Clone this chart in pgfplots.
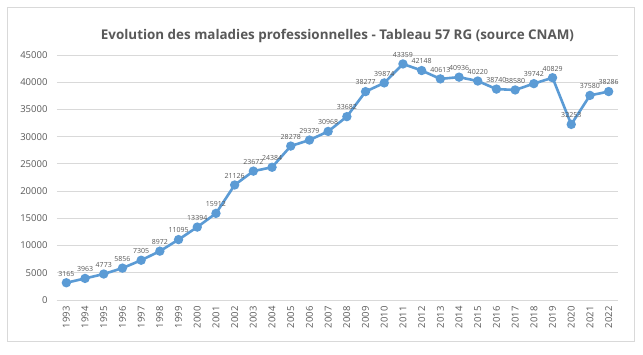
\documentclass[border=0pt]{standalone}
\usepackage{fontspec}
\setmainfont{Open Sans}
\usepackage{pgfplots}
\pgfplotsset{compat=1.18}
\definecolor{lineblue}{RGB}{91,155,213}
\definecolor{txtgray}{RGB}{89,89,89}
\definecolor{gridgray}{RGB}{217,217,217}
\begin{document}
\begin{tikzpicture}[x=1pt,y=1pt]
\fill[white] (-57,-54) rectangle (586,300);
\draw[gridgray,line width=0.8pt] (-50,-41) rectangle (577,293);
\begin{axis}[
  at={(0,0)}, anchor=south west,
  scale only axis, width=561pt, height=245pt,
  xmin=-0.5, xmax=29.5, ymin=0, ymax=45000,
  ytick={0,5000,...,45000},
  xtick={0,...,29},
  xticklabels={1993,1994,1995,1996,1997,1998,1999,2000,2001,2002,2003,2004,2005,2006,2007,2008,2009,2010,2011,2012,2013,2014,2015,2016,2017,2018,2019,2020,2021,2022},
  x tick label style={rotate=90, anchor=east, font=\fontsize{9.5}{11}\selectfont, text=txtgray, xshift=-3pt},
  y tick label style={font=\fontsize{9.5}{11}\selectfont, text=txtgray, xshift=-6pt},
  /pgf/number format/assume math mode=true,
  yticklabel style={/pgf/number format/1000 sep={}},
  scaled y ticks=false,
  ymajorgrids, grid style={gridgray, line width=0.8pt},
  axis line style={draw=none},
  axis x line*=bottom,
  major tick length=0pt,
  tick style={draw=none},
  title={\bfseries Evolution des maladies professionnelles - Tableau 57 RG (source CNAM)},
  title style={font=\fontsize{13.4}{16}\selectfont, text=txtgray, yshift=3pt},
  nodes near coords,
  nodes near coords style={font=\fontsize{7}{8}\selectfont, text=txtgray, /pgf/number format/fixed, /pgf/number format/1000 sep={}, anchor=south, yshift=2pt},
]
\draw[gridgray, line width=0.8pt] (axis cs:-0.5,0) -- (axis cs:29.5,0);
\addplot[lineblue, line width=2.6pt, mark=*, mark size=3.3pt, mark options={fill=lineblue, draw=lineblue}] coordinates {
(0,3165) (1,3963) (2,4773) (3,5856) (4,7305) (5,8972) (6,11095) (7,13394) (8,15912) (9,21126)
(10,23672) (11,24384) (12,28278) (13,29379) (14,30968) (15,33682) (16,38277) (17,39874) (18,43359) (19,42148)
(20,40613) (21,40936) (22,40220) (23,38740) (24,38580) (25,39742) (26,40829) (27,32253) (28,37580) (29,38286)
};
\end{axis}
\end{tikzpicture}
\end{document}
